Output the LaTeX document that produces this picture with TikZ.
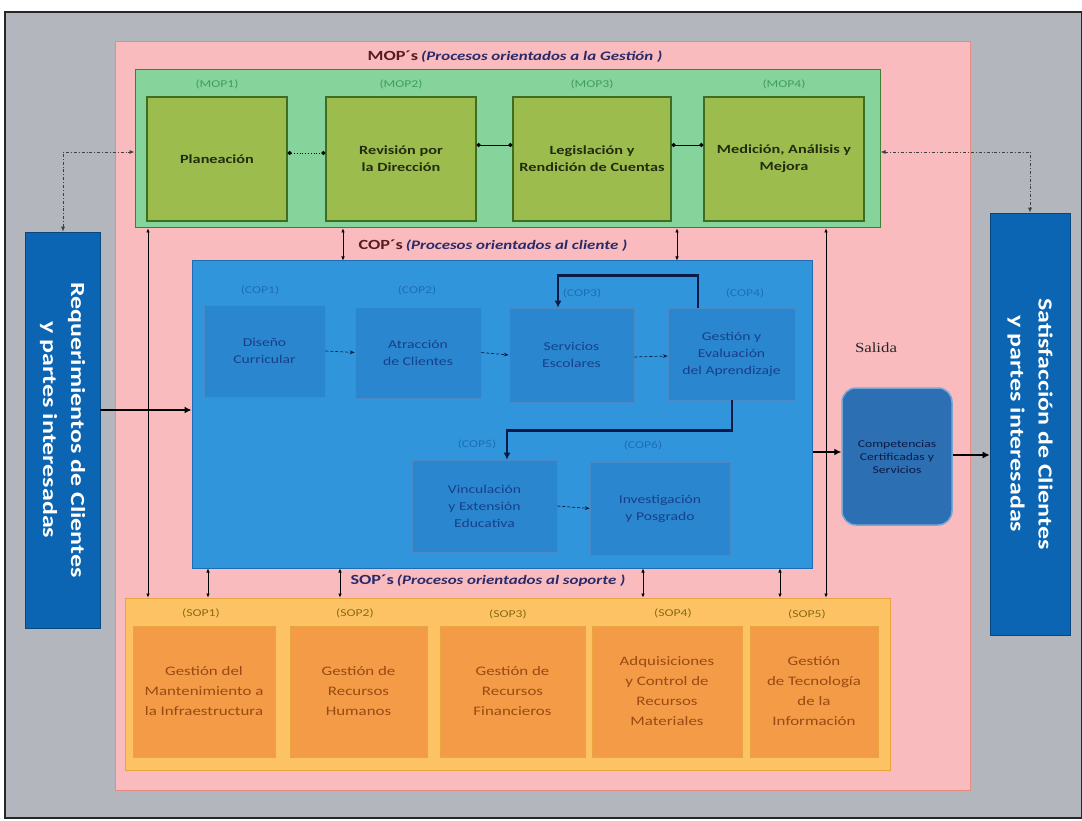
\documentclass[tikz,border=0pt]{standalone}
\usepackage{fontspec}
\setmainfont{Carlito}[FakeStretch=1.3]
\newfontfamily\salfont{Liberation Serif}[FakeStretch=1.2]
\usetikzlibrary{arrows.meta,calc}
\definecolor{bggray}{HTML}{B3B6BD}
\definecolor{pinkbg}{HTML}{F9BBBE}
\definecolor{pinkln}{HTML}{E58B80}
\definecolor{greenbg}{HTML}{86D39C}
\definecolor{greenln}{HTML}{3F7F35}
\definecolor{mopfill}{HTML}{9CBC4E}
\definecolor{mopln}{HTML}{3E6E22}
\definecolor{moptxt}{HTML}{222C0E}
\definecolor{moplab}{HTML}{3E9E62}
\definecolor{bluebg}{HTML}{3195DB}
\definecolor{blueln}{HTML}{1D6CB4}
\definecolor{copfill}{HTML}{2A86CE}
\definecolor{coptxt}{HTML}{17408A}
\definecolor{coplab}{HTML}{1E6DB5}
\definecolor{navy}{HTML}{0B1B45}
\definecolor{sidebl}{HTML}{0B65B3}
\definecolor{salfill}{HTML}{2C6FB3}
\definecolor{orangebg}{HTML}{FCC263}
\definecolor{orangeln}{HTML}{E9A53F}
\definecolor{sopfill}{HTML}{F39B47}
\definecolor{soptxt}{HTML}{9A4A12}
\definecolor{soplab}{HTML}{8A6A12}
\definecolor{titred}{HTML}{5A1A22}
\definecolor{titblue}{HTML}{2A2A6A}
\begin{document}
\begin{tikzpicture}[x=1pt,y=-1pt,
  container/.style={draw, line width=1pt, inner sep=0pt},
  mopbox/.style={draw=mopln, fill=mopfill, line width=1.2pt, minimum height=124, align=center, text=moptxt, font=\fontsize{12.5}{17}\selectfont\bfseries},
  copbox/.style={draw=blueln!80, fill=copfill, line width=0.6pt, align=center, text=coptxt, font=\fontsize{12}{17}\selectfont},
  sopbox/.style={draw=orangeln, fill=sopfill, line width=1pt, minimum height=131, align=center, text=soptxt, font=\fontsize{13}{20}\selectfont},
  lab/.style={font=\fontsize{10.5}{12}\selectfont},
  sidebar/.style={fill=sidebl, draw=sidebl!70!black, line width=0.6pt},
  sidetext/.style={rotate=-90, text=white, align=center, font=\fontsize{20}{28}\selectfont\bfseries},
  link/.style={line width=0.8pt, {Circle[length=4pt]}-{Circle[length=4pt]}},
  vlink/.style={line width=0.6pt, {Latex[length=4pt,width=3.5pt]}-{Latex[length=4pt,width=3.5pt]}},
  dlink/.style={line width=0.8pt, dash dot, {Latex[length=5pt,width=4pt]}-{Latex[length=5pt,width=4pt]}, black!75},
  flow/.style={line width=0.7pt, densely dashed, -{Stealth[length=5pt]}, navy},
  loop/.style={line width=2.4pt, navy, -{Latex[length=7pt,width=7pt]}},
  bigarrow/.style={line width=2pt, -{Latex[length=7pt,width=7pt]}}
]
\useasboundingbox (0,0) rectangle (1082,821);
\fill[white] (0,0) rectangle (1082,821);
\node[draw=black!85, fill=bggray, line width=1.5pt, minimum width=1077, minimum height=806, inner sep=0pt] (frame) at (543.5,415) {};

% containers
\node[container, draw=pinkln, fill=pinkbg, minimum width=855, minimum height=748] (pink) at (542.5,416) {};
\node[container, draw=greenln, fill=greenbg, minimum width=745, minimum height=158] (green) at (507.5,149) {};
\node[container, draw=blueln, fill=bluebg, minimum width=620, minimum height=307] (blue) at (502,414.5) {};
\node[container, draw=orangeln, fill=orangebg, minimum width=765, minimum height=172] (orange) at (507.5,684) {};

% side bars
\node[sidebar, minimum width=75, minimum height=396] (req) at (62.5,430) {};
\node[sidetext] (reqt) at (req.center) {Requerimientos de Clientes\\y partes interesadas};
\node[sidebar, minimum width=80, minimum height=422] (sat) at (1030,424) {};
\node[sidetext] (satt) at (sat.center) {Satisfacción de Clientes\\y partes interesadas};

% titles
\node (moptitle) at (515,57) {\textcolor{titred}{\fontsize{14}{16}\selectfont\bfseries MOP´s} \textcolor{titblue}{\fontsize{13}{15}\selectfont\bfseries\itshape (Procesos orientados a la Gestión )}};
\node (coptitle) at (493,246) {\textcolor{titred}{\fontsize{14}{16}\selectfont\bfseries COP´s} \textcolor{titblue}{\fontsize{13}{15}\selectfont\bfseries\itshape (Procesos orientados al cliente )}};
\node (soptitle) at (488,581) {\textcolor{titblue}{\fontsize{14}{16}\selectfont\bfseries SOP´s} \textcolor{titblue}{\fontsize{13}{15}\selectfont\bfseries\itshape (Procesos orientados al soporte )}};

% MOP boxes
\node[mopbox, minimum width=140] (m1) at (217,159) {Planeación};
\node[mopbox, minimum width=150] (m2) at (401,159) {Revisión por\\la Dirección};
\node[mopbox, minimum width=158] (m3) at (592,159) {Legislación y\\Rendición de Cuentas};
\node[mopbox, minimum width=160] (m4) at (784,159) {Medición, Análisis y\\Mejora};
\node[lab, text=moplab] (m1l) at (217,84) {(MOP1)};
\node[lab, text=moplab] (m2l) at (401,84) {(MOP2)};
\node[lab, text=moplab] (m3l) at (592,84) {(MOP3)};
\node[lab, text=moplab] (m4l) at (784,84) {(MOP4)};
\draw[link, dotted] ([yshift=6pt]m1.east) -- ([yshift=6pt]m2.west);
\draw[link] ([yshift=14pt]m2.east) -- ([yshift=14pt]m3.west);
\draw[link] ([yshift=14pt]m3.east) -- ([yshift=14pt]m4.west);

% COP boxes
\node[copbox, minimum width=121, minimum height=92] (c1) at (264.5,351) {Diseño\\Curricular};
\node[copbox, minimum width=126, minimum height=91] (c2) at (418,352.5) {Atracción\\de Clientes};
\node[copbox, minimum width=125, minimum height=94] (c3) at (571.5,355) {Servicios\\Escolares};
\node[copbox, minimum width=127, minimum height=92] (c4) at (731.5,354) {Gestión y\\Evaluación\\del Aprendizaje};
\node[copbox, minimum width=145, minimum height=92] (c5) at (484.5,506) {Vinculación\\y Extensión\\Educativa};
\node[copbox, minimum width=140, minimum height=93] (c6) at (660,508.5) {Investigación\\y Posgrado};
\node[lab, text=coplab] (c1l) at (260,290) {(COP1)};
\node[lab, text=coplab] (c2l) at (417,290) {(COP2)};
\node[lab, text=coplab] (c3l) at (582,293) {(COP3)};
\node[lab, text=coplab] (c4l) at (745,293) {(COP4)};
\node[lab, text=coplab] (c5l) at (477,444) {(COP5)};
\node[lab, text=coplab] (c6l) at (643,445) {(COP6)};
\draw[flow] (c1.east) -- (c2.west);
\draw[flow] (c2.east) -- (c3.west);
\draw[flow] ([yshift=-2pt]c3.east) -- ([yshift=-2pt]c4.west);
\draw[flow] (c5.east) -- (c6.west);
\draw[loop] ([xshift=-33.5pt]c4.north) -- ++(0,-32) -| ([xshift=-13.5pt]c3.north);
\draw[loop] ([xshift=0.5pt]c4.south) -- ++(0,30) -| ([xshift=22.5pt]c5.north);

% Salida
\node[font=\salfont\fontsize{14}{16}\selectfont, text=black!85] (salidal) at (876,348) {Salida};
\node[draw=blueln!60!white, fill=salfill, line width=1.5pt, rounded corners=14pt, minimum width=110, minimum height=137, align=center, text=navy, font=\fontsize{10.5}{13}\selectfont] (sal) at (897,456.5) {Competencias\\Certificadas y\\Servicios};

% SOP boxes
\node[sopbox, minimum width=142] (s1) at (204,691.5) {Gestión del\\Mantenimiento a\\la Infraestructura};
\node[sopbox, minimum width=137] (s2) at (358.5,691.5) {Gestión de\\Recursos\\Humanos};
\node[sopbox, minimum width=145] (s3) at (512.5,691.5) {Gestión de\\Recursos\\Financieros};
\node[sopbox, minimum width=150] (s4) at (667,691.5) {Adquisiciones\\y Control de\\Recursos\\Materiales};
\node[sopbox, minimum width=128] (s5) at (814,691.5) {Gestión\\de Tecnología\\de la\\Información};
\node[lab, text=soplab] (s1l) at (201,613) {(SOP1)};
\node[lab, text=soplab] (s2l) at (355,613) {(SOP2)};
\node[lab, text=soplab] (s3l) at (508,614) {(SOP3)};
\node[lab, text=soplab] (s4l) at (673,613) {(SOP4)};
\node[lab, text=soplab] (s5l) at (807,614) {(SOP5)};

% coordinates for vertical links
\coordinate (x148) at (148,0);
\coordinate (x343) at (343,0);
\coordinate (x677) at (677,0);
\coordinate (x826) at (826,0);
\coordinate (x208) at (208,0);
\coordinate (x340) at (340,0);
\coordinate (x643) at (643,0);
\coordinate (x780) at (780,0);
\coordinate (y152) at (0,152);
\coordinate (y410) at (0,410);
\coordinate (y452) at (0,452);
\coordinate (y455) at (0,455);
\coordinate (x1030) at (1030,0);
\coordinate (x63) at (63,0);

\draw[vlink] (green.south -| x148) -- (orange.north -| x148);
\draw[vlink] (green.south -| x343) -- (blue.north -| x343);
\draw[vlink] (green.south -| x677) -- (blue.north -| x677);
\draw[vlink] (green.south -| x826) -- (orange.north -| x826);
\draw[vlink] (blue.south -| x208) -- (orange.north -| x208);
\draw[vlink] (blue.south -| x340) -- (orange.north -| x340);
\draw[vlink] (blue.south -| x643) -- (orange.north -| x643);
\draw[vlink] (blue.south -| x780) -- (orange.north -| x780);

% dash-dot links to side bars
\draw[dlink] (req.north -| x63) |- (green.west |- y152);
\draw[dlink] (green.east |- y152) -| (sat.north -| x1030);

% main flow arrows
\draw[bigarrow] (req.east |- y410) -- (blue.west |- y410);
\draw[bigarrow] (blue.east |- y452) -- (sal.west |- y452);
\draw[bigarrow] (sal.east |- y455) -- (sat.west |- y455);
\end{tikzpicture}
\end{document}
